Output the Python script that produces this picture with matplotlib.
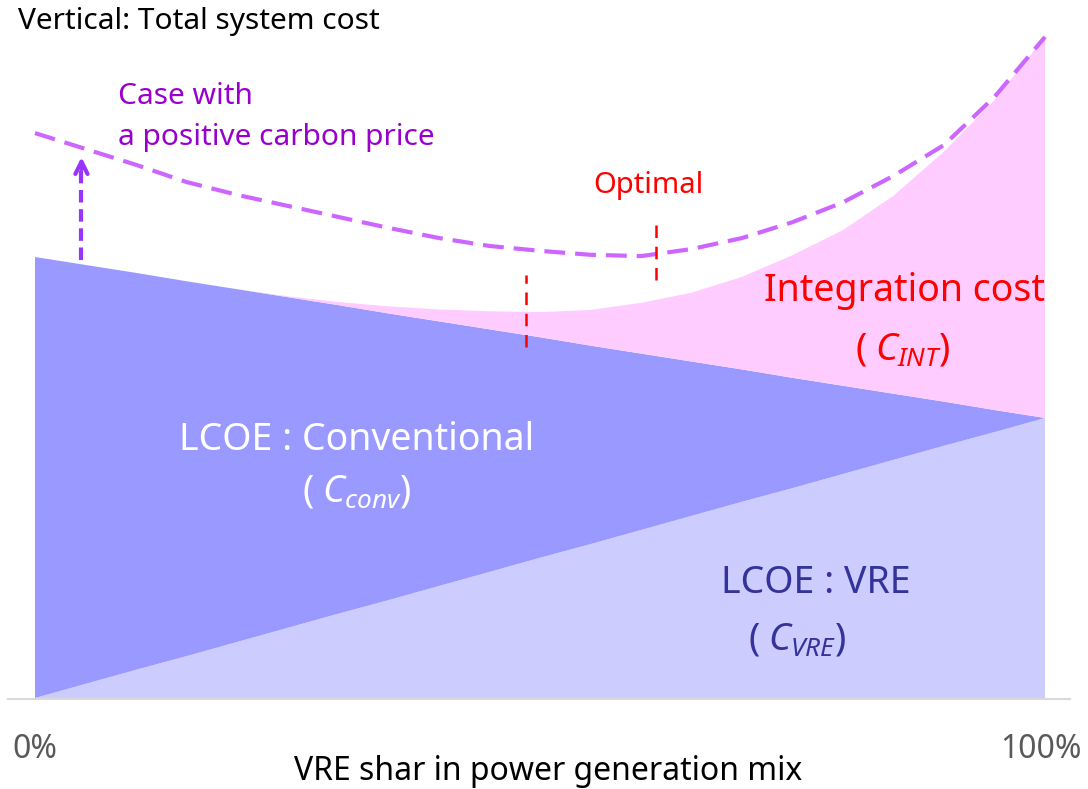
import numpy as np
import matplotlib
matplotlib.use("Agg")
import matplotlib.pyplot as plt

plt.rcParams['font.family'] = ['Noto Sans', 'DejaVu Sans']
plt.rcParams['mathtext.fontset'] = 'custom'
plt.rcParams['mathtext.rm'] = 'Noto Sans'
plt.rcParams['mathtext.it'] = 'Noto Sans:italic'

# VRE share (fraction of generation mix)
share = [0.0, 0.05, 0.10, 0.15, 0.20, 0.25, 0.30, 0.35, 0.40, 0.45, 0.50,
         0.55, 0.60, 0.65, 0.70, 0.75, 0.80, 0.85, 0.90, 0.95, 1.0]
# stacked cost components (arbitrary units)
lcoe_vre = [0.0, 3.2, 6.4, 9.5, 12.7, 15.9, 19.1, 22.2, 25.4, 28.6, 31.8,
            34.9, 38.1, 41.3, 44.5, 47.6, 50.8, 54.0, 57.2, 60.3, 63.5]
lcoe_conv = [100, 95, 90, 85, 80, 75, 70, 65, 60, 55, 50,
             45, 40, 35, 30, 25, 20, 15, 10, 5, 0]
integration = [0.0, 0.0, 0.0, 0.0, 0.0, 0.2, 0.7, 1.6, 2.7, 4.1, 5.7,
               8.1, 11.5, 15.6, 21.0, 27.8, 35.3, 44.9, 56.7, 70.3, 86.4]
# total system cost with a positive carbon price
carbon_case = [128.1, 124.5, 120.9, 117.0, 114.1, 111.6, 109.1, 106.6, 104.3, 102.5, 101.4,
               100.5, 100.2, 101.8, 104.3, 107.9, 112.4, 118.4, 125.4, 136.3, 149.9]
x_tick_labels = ['0%', '100%']

W, H = 1088, 789


def fig_pos(xp, yp):
    return xp / W, 1 - yp / H


fig = plt.figure(figsize=(W / 100, H / 100), dpi=100)
ax = fig.add_axes([35 / W, (H - 698) / H, 1010 / W, 670 / H])

x = np.array(share)
ax.stackplot(x, lcoe_vre, lcoe_conv, integration,
             colors=['#CCCCFF', '#9999FF', '#FFCCFF'], linewidth=0)
ax.plot(x, carbon_case, color='#CC66FF', lw=3, dashes=(5, 2.4), clip_on=False)

total = np.array(lcoe_vre) + np.array(lcoe_conv) + np.array(integration)

# arrow from base case up to carbon price case
arr_x = 0.046
y0 = np.interp(arr_x, x, total) + 1
y1 = np.interp(arr_x, x, carbon_case) - 1.5
ax.plot([arr_x, arr_x], [y0, y1 - 3], color='#9933FF', lw=3, dashes=(3, 1.6))
ax.annotate('', xy=(arr_x, y1), xytext=(arr_x, y1 - 4),
            arrowprops=dict(arrowstyle='->', color='#9933FF', lw=3, mutation_scale=22))

# optimal markers (x position, curve, extent below / above)
for ox, curve, lo, hi in [(0.486, total, 8, 8.3), (0.615, np.array(carbon_case), 6, 7)]:
    oy = np.interp(ox, x, curve)
    ax.plot([ox, ox], [oy - lo, oy + hi], color='#FF0000', lw=1.8, dashes=(5, 3.5))

ax.set_xlim(0, 1)
ax.set_ylim(0, 670 / 4.41)
ax.axis('off')

# baseline
fig.add_artist(plt.Line2D([8 / W, 1070 / W], [1 - 699 / H, 1 - 699 / H],
                          color='#D9D9D9', lw=1.5))

fs = 21.5
big = 27
fig.text(*fig_pos(18, 22), 'Vertical: Total system cost', fontsize=fs, color='black',
         ha='left', va='center')
fig.text(*fig_pos(118, 97), 'Case with', fontsize=fs, color='#9900CC', ha='left', va='center')
fig.text(*fig_pos(118, 138), 'a positive carbon price', fontsize=fs, color='#9900CC',
         ha='left', va='center')
fig.text(*fig_pos(648, 185), 'Optimal', fontsize=21, color='#FF0000', ha='center', va='center')
fig.text(*fig_pos(905, 291), 'Integration cost', fontsize=big, color='#FF0000',
         ha='center', va='center')
fig.text(*fig_pos(903, 350), r'$(\;C_{INT})$', fontsize=big, color='#FF0000',
         ha='center', va='center')
fig.text(*fig_pos(357, 440), 'LCOE : Conventional', fontsize=big, color='white',
         ha='center', va='center')
fig.text(*fig_pos(357, 492), r'$(\;C_{conv})$', fontsize=big, color='white',
         ha='center', va='center')
fig.text(*fig_pos(816, 583), 'LCOE : VRE', fontsize=big, color='#333399',
         ha='center', va='center')
fig.text(*fig_pos(797, 640), r'$(\;C_{VRE})$', fontsize=big, color='#333399',
         ha='center', va='center')

fig.text(*fig_pos(35, 750), x_tick_labels[0], fontsize=23, color='#595959', ha='center', va='center')
fig.text(*fig_pos(1041, 750), x_tick_labels[1], fontsize=23, color='#595959', ha='center', va='center')
fig.text(*fig_pos(548, 772), 'VRE shar in power generation mix', fontsize=23, color='black',
         ha='center', va='center')

fig.savefig('out.png', dpi=100)
